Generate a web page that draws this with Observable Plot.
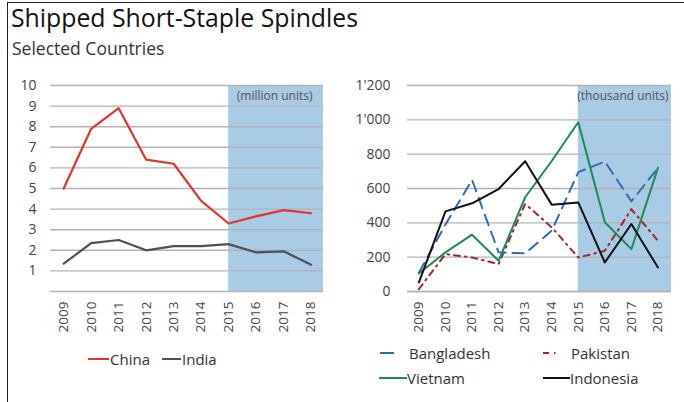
<!DOCTYPE html>
<html><head><meta charset="utf-8">
<script src="https://cdn.jsdelivr.net/npm/d3@7"></script>
<script src="https://cdn.jsdelivr.net/npm/@observablehq/plot@0.6"></script>
<style>
body{margin:0;width:684px;height:402px;overflow:hidden;background:#fff;font-family:"Open Sans",sans-serif;position:relative}
#frame{position:absolute;left:7px;top:2px;width:690px;height:410px;border-top:1.5px solid #222;border-left:1.5px solid #222}
#title{position:absolute;left:11px;top:0px;font-size:24.8px;color:#111}
#sub{position:absolute;left:12px;top:36px;font-size:17.5px;color:#333}
.chart{position:absolute;top:70px}
.leg{position:absolute;font-size:15px;color:#333;display:flex;align-items:center;white-space:nowrap}
.leg svg{display:block}
</style></head><body>
<div id="frame"></div>
<div id="title">Shipped Short-Staple Spindles</div>
<div id="sub">Selected Countries</div>
<div id="left" class="chart" style="left:0px"></div>
<div id="right" class="chart" style="left:340px"></div>
<div id="legs"></div>
<script>
const years = [2009,2010,2011,2012,2013,2014,2015,2016,2017,2018];
const forecastFrom = 2015;
const china = [5.0,7.9,8.9,6.4,6.2,4.4,3.3,3.65,3.95,3.8];
const india = [1.35,2.35,2.5,2.0,2.2,2.2,2.3,1.9,1.95,1.3];
const bangladesh = [110,390,650,228,222,354,695,757,525,720];
const pakistan = [14,218,198,160,510,374,198,237,480,296];
const vietnam = [105,228,331,179,549,760,986,403,247,720];
const indonesia = [53,467,514,597,759,506,519,169,393,140];
const leftTicks = [1,2,3,4,5,6,7,8,9,10];
const rightTicks = [0,200,400,600,800,1000,1200];

const C = {China:"#e0342c", India:"#4b4f5e", Bangladesh:"#2f6cb5", Pakistan:"#a3262a", Vietnam:"#1c8b56", Indonesia:"#111111"};

function rows(name, vals){ return years.map((y,i)=>({year:y, value:vals[i], series:name})); }
const apos = d3.formatLocale({decimal:".",thousands:"'",grouping:[3],currency:["",""]}).format(",");

function chart(opts){
  const {width, marginLeft, marginRight, xDomain, yDomain, yTicks, yFmt, yPad, series, unit, unitDx} = opts;
  const marks = [
    Plot.rect([{start: forecastFrom}], {x1:"start", x2:()=>xDomain[1], y1:()=>yDomain[0], y2:()=>yDomain[1], fill:"#a8cbe6"}),
    Plot.gridY([0, ...yTicks], {stroke:"#b3b3b3", strokeOpacity:1, strokeWidth:1.4}),
    Plot.axisY(yTicks, {tickSize:0, tickPadding:yPad, tickFormat:yFmt, fontSize:14, fill:"#444", label:null}),
    Plot.axisX(years, {tickSize:0, tickRotate:-90, tickPadding:10, tickFormat:d=>String(d), fontSize:13.5, fill:"#444", label:null}),
    Plot.text([unit], {text:d=>d, frameAnchor:"top-right", dx:unitDx, dy:6, fontSize:12, fill:"#555"})
  ];
  for (const s of series) {
    marks.push(Plot.line(s.data, {x:"year", y:"value", stroke:C[s.name], strokeWidth:s.w||2, strokeDasharray:s.dash}));
  }
  return Plot.plot({
    width, height:280, marginLeft, marginRight, marginTop:15, marginBottom:59,
    style:{fontFamily:"'Open Sans',sans-serif", fontSize:"13px", color:"#444", background:"transparent"},
    x:{type:"linear", domain:xDomain, axis:null},
    y:{domain:yDomain, axis:null},
    marks
  });
}

document.getElementById("left").append(chart({
  width:340, marginLeft:50, marginRight:17, xDomain:[2008.52,2018.45], yDomain:[0,10], yTicks:leftTicks, yFmt:d=>String(d), yPad:14,
  unit:"(million units)", unitDx:-11,
  series:[{name:"India", data:rows("India",india), w:2.2},{name:"China", data:rows("China",china), w:2.2}]
}));
document.getElementById("right").append(chart({
  width:344, marginLeft:67, marginRight:13, xDomain:[2008.57,2018.51], yDomain:[0,1200], yTicks:rightTicks, yFmt:apos, yPad:17,
  unit:"(thousand units)", unitDx:-3,
  series:[
    {name:"Pakistan", data:rows("Pakistan",pakistan), dash:"6,5,1.5,5"},
    {name:"Bangladesh", data:rows("Bangladesh",bangladesh), dash:"11,7"},
    {name:"Vietnam", data:rows("Vietnam",vietnam)},
    {name:"Indonesia", data:rows("Indonesia",indonesia)}
  ]
}));

function legend(name, x, y, sw, dash, gap){
  const d = document.createElement("div");
  d.className = "leg";
  d.style.left = x+"px"; d.style.top = (y-11)+"px";
  d.innerHTML = `<svg width="${sw}" height="4"><line x1="0" x2="${sw}" y1="2" y2="2" stroke="${C[name]}" stroke-width="2" ${dash?`stroke-dasharray="${dash}"`:""}/></svg><span style="margin-left:${gap}px">${name}</span>`;
  document.getElementById("legs").append(d);
}
legend("China", 88, 360, 21, null, 1);
legend("India", 162, 360, 19, null, 1);
legend("Bangladesh", 380, 354, 14, null, 15);
legend("Pakistan", 543, 354, 14, "6,5,1.5,5", 14);
legend("Vietnam", 379, 379, 28, null, 0);
legend("Indonesia", 543, 379, 27, null, 0);
</script>
</body></html>
